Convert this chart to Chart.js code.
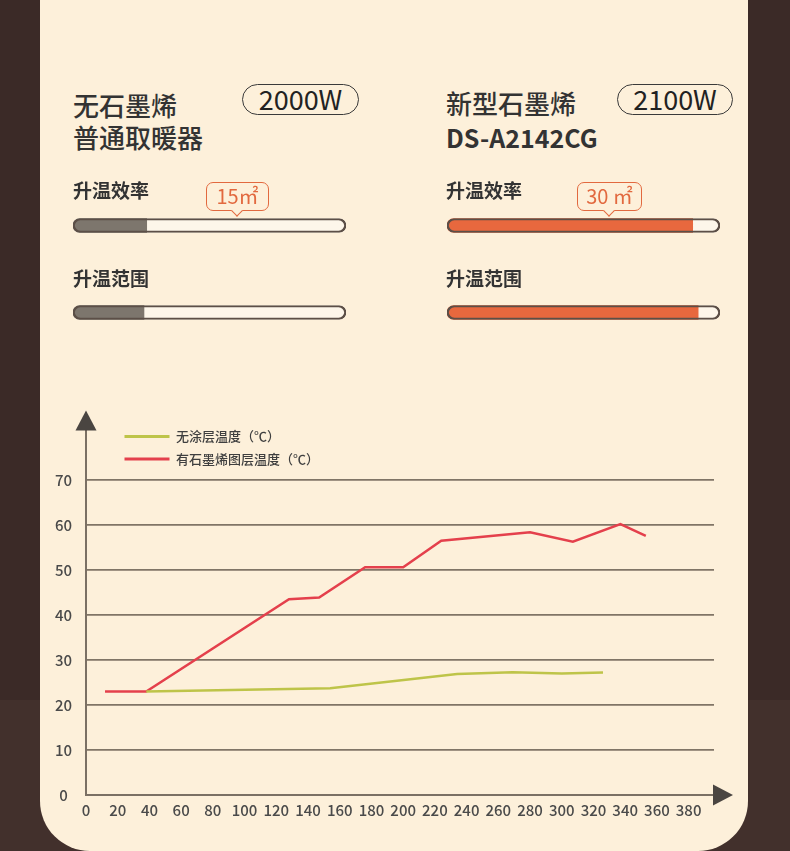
<!DOCTYPE html>
<html><head><meta charset="utf-8">
<script src="https://cdn.jsdelivr.net/npm/chart.js@4.4.1/dist/chart.umd.min.js"></script>
<style>
html,body{margin:0;padding:0;}
body{width:790px;height:851px;position:relative;overflow:hidden;background:#3b2a27;font-family:'Noto Sans CJK SC','Noto Sans',sans-serif;}
.bg2{position:absolute;left:0;top:700px;width:790px;height:151px;background:#42302c;}
.card{position:absolute;left:40px;top:-60px;width:708px;height:911px;background:#fdf0da;border-radius:0 0 50px 50px;}
.abs{position:absolute;white-space:nowrap;}
.title{font-size:26px;line-height:32px;color:#333;font-weight:500;}
.model{font-size:25px;line-height:32px;color:#333;font-weight:700;}
.pill{border:1.5px solid #3a3a3a;border-radius:16px;box-sizing:border-box;height:31px;font-size:27px;line-height:28px;text-align:center;color:#222;}
.lbl{font-size:19px;line-height:24px;color:#333;font-weight:700;}
.bubble{border:1.5px solid #e2693f;border-radius:7px;box-sizing:border-box;height:29px;color:#e2693f;font-size:20px;line-height:26px;text-align:center;background:#fdf0da;}
.bubble::after{content:'';position:absolute;left:50%;bottom:-4.5px;width:7px;height:7px;margin-left:-4.5px;background:#fdf0da;border-right:1.5px solid #e2693f;border-bottom:1.5px solid #e2693f;transform:rotate(45deg);}
canvas{display:block;}
.cv{position:absolute;}
</style></head>
<body>
<div class="bg2"></div>
<div class="card"></div>

<canvas id="barsA" class="cv" width="277" height="174" style="left:71px;top:182px;"></canvas>
<canvas id="barsB" class="cv" width="277" height="174" style="left:445px;top:182px;"></canvas>
<canvas id="main" class="cv" width="708" height="451" style="left:40px;top:400px;"></canvas>

<div class="abs title" style="left:73px;top:89px;">无石墨烯<br>普通取暖器</div>
<div class="abs pill" style="left:242px;top:84px;width:117px;">2000W</div>
<div class="abs lbl" style="left:73px;top:178px;">升温效率</div>
<div class="abs bubble" style="left:206px;top:182px;width:63px;">15㎡</div>
<div class="abs lbl" style="left:73px;top:266px;">升温范围</div>

<div class="abs title" style="left:446px;top:87px;">新型石墨烯</div>
<div class="abs model" style="left:446px;top:121px;">DS-A2142CG</div>
<div class="abs pill" style="left:617px;top:84px;width:116px;">2100W</div>
<div class="abs lbl" style="left:446px;top:178px;">升温效率</div>
<div class="abs bubble" style="left:577px;top:182px;width:65px;">30 ㎡</div>
<div class="abs lbl" style="left:446px;top:266px;">升温范围</div>

<script>
// ---- data ----
const xTickValues = [0,20,40,60,80,100,120,140,160,180,200,220,240,260,280,300,320,340,360,380];
const yTickValues = [0,10,20,30,40,50,60,70];
const seriesNames = ['无涂层温度（℃）', '有石墨烯图层温度（℃）'];
const plainMinutes = [38, 154, 234, 269, 300, 326];
const plainTemps = [23.0, 23.7, 26.9, 27.3, 27.0, 27.2];
const grapheneMinutes = [12, 38, 128, 147, 176, 200, 224, 280, 307, 337, 353];
const grapheneTemps = [23.0, 23.0, 43.5, 43.9, 50.6, 50.6, 56.5, 58.4, 56.3, 60.2, 57.6];
const barCategories = ['升温效率', '升温范围'];
const plainBarValues = [27, 26];
const grapheneBarValues = [90, 92];
const barMax = 100;

Chart.defaults.font.family = "'Noto Sans CJK SC','Noto Sans',sans-serif";

function makeBars(id, values, fillColor) {
  const full = barCategories.map(() => barMax);
  const r = {topLeft: 7, topRight: 7, bottomLeft: 7, bottomRight: 7};
  new Chart(document.getElementById(id), {
    type: 'bar',
    data: {
      labels: barCategories,
      datasets: [
        {data: full, backgroundColor: 'rgba(0,0,0,0)', borderColor: '#5c4f47', borderWidth: 1.5,
         borderRadius: r, borderSkipped: false, barThickness: 14, grouped: false},
        {data: values, backgroundColor: fillColor, borderWidth: 0,
         borderRadius: {topLeft: 7, bottomLeft: 7, topRight: 0, bottomRight: 0},
         borderSkipped: false, barThickness: 14, grouped: false},
        {data: full, backgroundColor: '#fdf6ea', borderWidth: 0,
         borderRadius: r, borderSkipped: false, barThickness: 14, grouped: false}
      ]
    },
    options: {
      indexAxis: 'y', responsive: false, animation: false, events: [],
      layout: {padding: {left: 2, right: 2, top: 0, bottom: 0}},
      scales: {x: {display: false, min: 0, max: barMax}, y: {display: false}},
      plugins: {legend: {display: false}, tooltip: {enabled: false}}
    }
  });
}
makeBars('barsA', plainBarValues, '#7d766d');
makeBars('barsB', grapheneBarValues, '#e8683e');

const toPts = (xs, ys) => xs.map((x, i) => ({x: x, y: ys[i]}));

const arrowPlugin = {
  id: 'arrows',
  afterDraw(chart) {
    const {left, top, right, bottom} = chart.chartArea;
    const ctx = chart.ctx;
    ctx.save();
    ctx.fillStyle = '#4a4541';
    ctx.beginPath();
    ctx.moveTo(left, top - 20);
    ctx.lineTo(left - 10.5, top);
    ctx.lineTo(left + 10.5, top);
    ctx.closePath();
    ctx.fill();
    ctx.beginPath();
    ctx.moveTo(right + 19, bottom);
    ctx.lineTo(right - 1, bottom - 10.5);
    ctx.lineTo(right - 1, bottom + 10.5);
    ctx.closePath();
    ctx.fill();
    ctx.restore();
  }
};

const legendPlacer = {
  id: 'legendPlacer',
  beforeDraw(chart) {
    const lg = chart.legend, ca = chart.chartArea;
    if (!lg) return;
    lg.left = ca.left + 29;
    lg.top = ca.top - 10;
    lg.right = lg.left + 400;
    lg.bottom = lg.top + 200;
  }
};

new Chart(document.getElementById('main'), {
  type: 'line',
  data: {
    datasets: [
      {label: seriesNames[0], data: toPts(plainMinutes, plainTemps), borderColor: '#bec449',
       backgroundColor: '#bec449', borderWidth: 2.5, pointRadius: 0, tension: 0},
      {label: seriesNames[1], data: toPts(grapheneMinutes, grapheneTemps), borderColor: '#e4404c',
       backgroundColor: '#e4404c', borderWidth: 2.5, pointRadius: 0, tension: 0}
    ]
  },
  options: {
    responsive: false, animation: false, events: [],
    layout: {padding: {top: 30.5, right: 34, left: 0, bottom: 0}},
    scales: {
      x: {
        type: 'linear', min: 0, max: 396,
        afterBuildTicks: s => { s.ticks = xTickValues.map(v => ({value: v})); },
        afterFit: s => { s.height = 56; },
        grid: {display: false, drawTicks: false},
        border: {display: true, color: '#7b7064', width: 2},
        ticks: {autoSkip: false, maxRotation: 0, padding: 6, color: '#4a4a4a',
                font: {size: 15, weight: '500'}, callback: v => String(v)}
      },
      y: {
        type: 'linear', min: 0, max: 81,
        afterBuildTicks: s => { s.ticks = yTickValues.map(v => ({value: v})); },
        afterFit: s => { s.width = 46; },
        grid: {color: '#807566', lineWidth: 1.8, drawTicks: false},
        border: {display: true, color: '#7b7064', width: 2},
        ticks: {crossAlign: 'center', padding: 14, color: '#4a4a4a',
                font: {size: 15, weight: '500'}, callback: v => String(v)}
      }
    },
    plugins: {
      tooltip: {enabled: false},
      legend: {
        position: 'chartArea', align: 'start',
        labels: {
          boxWidth: 45, boxHeight: 3, padding: 9.5, color: '#3f3f3f', font: {size: 13, weight: '500'},
          generateLabels: chart => Chart.defaults.plugins.legend.labels.generateLabels(chart)
            .map(l => Object.assign(l, {fillStyle: l.strokeStyle, lineWidth: 0}))
        }
      }
    }
  },
  plugins: [arrowPlugin, legendPlacer]
});
</script>
</body></html>
